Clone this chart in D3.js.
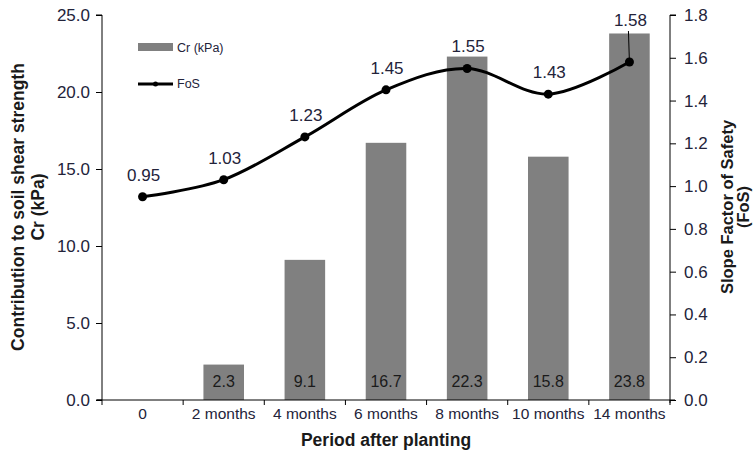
<!DOCTYPE html>
<html>
<head>
<meta charset="utf-8">
<script src="https://cdn.jsdelivr.net/npm/d3@7"></script>
<style>
  html, body { margin: 0; padding: 0; background: #fff; }
  svg { display: block; font-family: "Liberation Sans", Arial, sans-serif; }
</style>
</head>
<body>
<svg id="chart" width="756" height="456"></svg>
<script>
const categories = ["0", "2 months", "4 months", "6 months", "8 months", "10 months", "14 months"];
const crValues = [null, 2.3, 9.1, 16.7, 22.3, 15.8, 23.8];
const fosValues = [0.95, 1.03, 1.23, 1.45, 1.55, 1.43, 1.58];
const leftTicks = [0, 5, 10, 15, 20, 25];
const rightTicks = [0, 0.2, 0.4, 0.6, 0.8, 1.0, 1.2, 1.4, 1.6, 1.8];

const svg = d3.select("#chart");
const L = 102, R = 670, T = 15, B = 400;
const textColor = "#23233a";
const barColor = "#808080";

const x = d3.scaleBand().domain(categories).range([L, R]).paddingInner(0).paddingOuter(0);
const yL = d3.scaleLinear().domain([0, 25]).range([B, T]);
const yR = d3.scaleLinear().domain([0, 1.8]).range([B, T]);

// Bars
const barW = x.bandwidth() * 0.5;
const barData = categories.map((c, i) => ({c, v: crValues[i]})).filter(d => d.v != null);
svg.append("g").selectAll("rect").data(barData).join("rect")
  .attr("x", d => x(d.c) + (x.bandwidth() - barW) / 2)
  .attr("y", d => yL(d.v))
  .attr("width", barW)
  .attr("height", d => yL(0) - yL(d.v))
  .attr("fill", barColor);

svg.append("g").selectAll("text").data(barData).join("text")
  .attr("x", d => x(d.c) + x.bandwidth() / 2)
  .attr("y", yL(0) - 13)
  .attr("text-anchor", "middle")
  .attr("font-size", 16)
  .attr("fill", "#1a1a1a")
  .text(d => d.v.toFixed(1));

// Left axis
const axL = svg.append("g").attr("transform", `translate(${L},0)`)
  .call(d3.axisLeft(yL).tickValues(leftTicks).tickFormat(d3.format(".1f")).tickSize(6).tickPadding(6));
axL.select(".domain").attr("stroke", "#000").attr("d", `M-6,${T}H0V${B}H-6`);
axL.selectAll(".tick line").attr("stroke", "#000");
axL.selectAll(".tick text").attr("font-size", 17).attr("fill", textColor).attr("font-family", "Liberation Sans, Arial, sans-serif");

// Right axis
const axR = svg.append("g").attr("transform", `translate(${R},0)`)
  .call(d3.axisRight(yR).tickValues(rightTicks).tickFormat(d3.format(".1f")).tickSize(6).tickPadding(8));
axR.select(".domain").attr("stroke", "#000").attr("d", `M6,${T}H0V${B + 3}`);
axR.selectAll(".tick line").attr("stroke", "#000");
axR.selectAll(".tick text").attr("font-size", 17).attr("fill", textColor).attr("font-family", "Liberation Sans, Arial, sans-serif");

// X axis
const gx = svg.append("g");
gx.append("line").attr("x1", L - 5).attr("x2", R + 5).attr("y1", B).attr("y2", B).attr("stroke", "#000");
const bounds = categories.map(c => x(c)).concat([R]);
gx.selectAll("line.tk").data(bounds).join("line").attr("class", "tk")
  .attr("x1", d => d).attr("x2", d => d).attr("y1", B).attr("y2", B + 5).attr("stroke", "#000");
gx.selectAll("text").data(categories).join("text")
  .attr("x", d => x(d) + x.bandwidth() / 2)
  .attr("y", 419)
  .attr("text-anchor", "middle")
  .attr("font-size", 15.5)
  .attr("fill", textColor)
  .text(d => d);

// FoS line
const pts = categories.map((c, i) => [x(c) + x.bandwidth() / 2, yR(fosValues[i])]);
svg.append("path").attr("d", d3.line().curve(d3.curveCardinal.tension(0))(pts))
  .attr("fill", "none").attr("stroke", "#000").attr("stroke-width", 3);
svg.append("g").selectAll("circle").data(pts).join("circle")
  .attr("cx", d => d[0]).attr("cy", d => d[1]).attr("r", 4.5).attr("fill", "#000");

// FoS labels
const lastIdx = fosValues.length - 1;
svg.append("g").selectAll("text").data(fosValues).join("text")
  .attr("x", (d, i) => pts[i][0] + 1)
  .attr("y", (d, i) => i === lastIdx ? 26 : pts[i][1] - 16)
  .attr("text-anchor", "middle")
  .attr("font-size", 17)
  .attr("fill", textColor)
  .text(d => d.toFixed(2));
// leader line for the last label
svg.append("line").attr("x1", pts[lastIdx][0] - 1).attr("y1", 31).attr("x2", pts[lastIdx][0]).attr("y2", pts[lastIdx][1])
  .attr("stroke", "#000").attr("stroke-width", 1);

// Legend
const lg = svg.append("g");
lg.append("rect").attr("x", 138).attr("y", 43).attr("width", 35).attr("height", 8).attr("fill", barColor);
lg.append("text").attr("x", 177).attr("y", 52).attr("font-size", 12.5).attr("fill", textColor).text("Cr (kPa)");
lg.append("line").attr("x1", 138).attr("x2", 173).attr("y1", 84).attr("y2", 84).attr("stroke", "#000").attr("stroke-width", 3);
lg.append("circle").attr("cx", 155.5).attr("cy", 84).attr("r", 2.5).attr("fill", "#000");
lg.append("text").attr("x", 177).attr("y", 88).attr("font-size", 12.5).attr("fill", textColor).text("FoS");

// Axis titles
const lt = svg.append("text").attr("transform", `translate(24,207) rotate(-90)`)
  .attr("text-anchor", "middle").attr("font-size", 17.5).attr("font-weight", "bold").attr("fill", "#1a1a1a");
lt.append("tspan").attr("x", 0).attr("dy", 0).text("Contribution to soil shear strength");
lt.append("tspan").attr("x", 0).attr("dy", 20).text("Cr (kPa)");

const rt = svg.append("text").attr("transform", `translate(733,207) rotate(-90)`)
  .attr("text-anchor", "middle").attr("font-size", 16.5).attr("font-weight", "bold").attr("fill", "#1a1a1a");
rt.append("tspan").attr("x", 0).attr("dy", 0).text("Slope Factor of Safety");
rt.append("tspan").attr("x", 0).attr("dy", 15.5).text("(FoS)");

svg.append("text").attr("x", 386).attr("y", 446).attr("text-anchor", "middle")
  .attr("font-size", 17.5).attr("font-weight", "bold").attr("fill", "#1a1a1a").text("Period after planting");
</script>
</body>
</html>
